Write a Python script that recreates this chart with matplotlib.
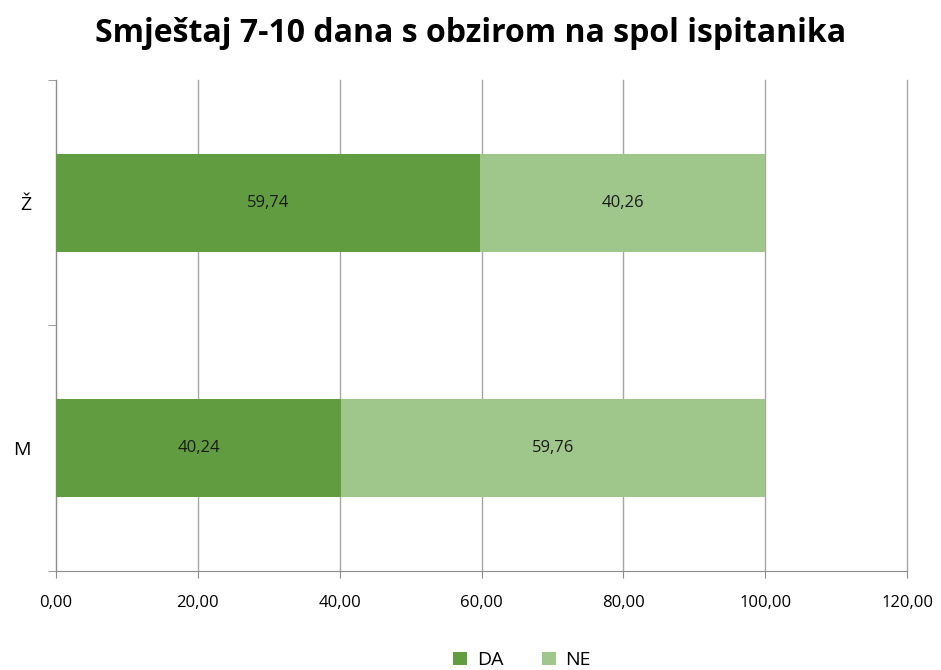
import matplotlib
matplotlib.use("Agg")
import matplotlib.pyplot as plt
import numpy as np

categories = ["M", "Ž"]
da_values = [40.24, 59.74]
ne_values = [59.76, 40.26]
x_ticks = [0, 20, 40, 60, 80, 100, 120]

plt.rcParams["font.family"] = ["Open Sans", "DejaVu Sans"]

fig = plt.figure(figsize=(9.41, 6.70), dpi=100)
ax = fig.add_axes([0.0595, 0.1478, 0.9045, 0.7328])

y = np.arange(len(categories))
h = 0.4
da_color = "#629c40"
ne_color = "#9fc78c"
b1 = ax.barh(y, da_values, h, color=da_color, label="DA", zorder=3)
b2 = ax.barh(y, ne_values, h, left=da_values, color=ne_color, label="NE", zorder=3)

for bars in (b1, b2):
    for b in bars:
        ax.text(b.get_x() + b.get_width() / 2, b.get_y() + b.get_height() / 2,
                f"{b.get_width():.2f}".replace(".", ","),
                ha="center", va="center", fontsize=12, color="#1a1a1a", zorder=4)

ax.set_xlim(0, 120)
ax.set_ylim(-0.5, len(categories) - 0.5)
ax.set_xticks(x_ticks)
ax.set_xticklabels([f"{v:.2f}".replace(".", ",") for v in x_ticks], fontsize=12)
ax.set_yticks(y)
ax.set_yticklabels(categories, fontsize=14)
ax.set_yticks([-0.5, 0.5, 1.5], minor=True)
ax.tick_params(axis="y", which="major", length=0, pad=18)
ax.tick_params(axis="y", which="minor", length=6, color="#8c8c8c")
ax.tick_params(axis="x", length=5, color="#8c8c8c", pad=12)
ax.grid(axis="x", color="#a6a6a6", linewidth=1, zorder=0)
for gl in ax.get_xgridlines():
    gl.set_clip_on(False)
for s in ("top", "right"):
    ax.spines[s].set_visible(False)
for s in ("left", "bottom"):
    ax.spines[s].set_color("#8c8c8c")

fig.suptitle("Smještaj 7-10 dana s obzirom na spol ispitanika",
             fontsize=23, fontweight="bold", y=0.975)
fig.legend(loc="lower center", bbox_to_anchor=(0.555, -0.025), ncol=2, frameon=False,
           fontsize=14, handlelength=0.7, handleheight=0.7, columnspacing=2.0,
           handletextpad=0.5)

fig.savefig("out.png", dpi=100)
